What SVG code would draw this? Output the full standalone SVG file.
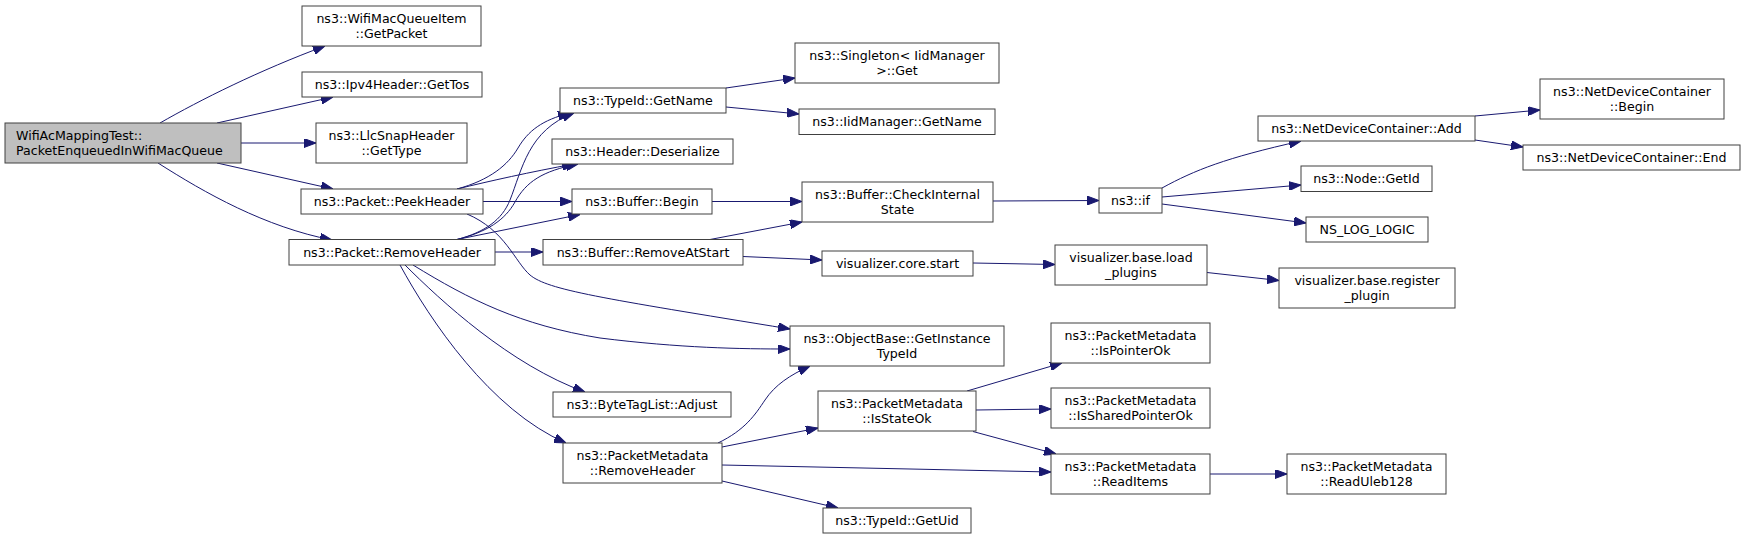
<svg xmlns="http://www.w3.org/2000/svg" width="1745" height="539" viewBox="0 0 1745 539">
<style>
.n rect{fill:#ffffff;stroke:#404040;stroke-width:1}
.n.root rect{fill:#bfbfbf}
.n text{font-family:"DejaVu Sans","Liberation Sans",sans-serif;font-size:12.6px;fill:#000;text-anchor:middle}
.n.root text{text-anchor:start}
.e path{fill:none;stroke:#191970;stroke-width:1;marker-end:url(#arr)}
</style>
<defs>
<marker id="arr" markerWidth="12" markerHeight="9" refX="12" refY="4.5" orient="auto" markerUnits="userSpaceOnUse">
<path d="M0,0 L12,4.5 L0,9 z" fill="#191970" stroke="#191970" stroke-width="1"/>
</marker>
</defs>
<rect x="0" y="0" width="1745" height="539" fill="#ffffff"/>
<g id="edges" class="e">
<path d="M160,123 C200,100 260,70 325,46"/>
<path d="M217,123 L333,97"/>
<path d="M241,143 L316,143"/>
<path d="M217,163 L333,189"/>
<path d="M158,163 C205,193 265,227 332,240"/>
<path d="M457,189 C490,180 508,165 518,148 C528,131 542,120 570,113"/>
<path d="M457,189 C490,181 530,172 574,164"/>
<path d="M483,201.5 L572,201.5"/>
<path d="M467,214 C505,230 515,262 530,275 C548,290 600,298 790,329"/>
<path d="M457,239.5 C485,232 502,220 510,200 C522,170 528,130 574,113"/>
<path d="M457,239.5 C487,232 505,220 515,202 C526,182 542,171 578,164"/>
<path d="M457,239.5 L580,214.5"/>
<path d="M495,252 L543,252"/>
<path d="M413,265 C470,300 520,325 600,338 C680,348 740,349 790,349"/>
<path d="M405,265 C440,300 510,365 585,392"/>
<path d="M400,265 C430,320 490,410 566,443"/>
<path d="M726,88 L795,78"/>
<path d="M726,107 L799,114"/>
<path d="M712,201.5 L802,201.5"/>
<path d="M710,239.5 L802,222"/>
<path d="M743,256.5 L822,260"/>
<path d="M718,443 C745,430 755,415 765,400 C775,385 790,375 810,366"/>
<path d="M722,447 L818,428"/>
<path d="M722,465 L1051,472"/>
<path d="M722,481 L838,508"/>
<path d="M993,201 L1099,200.5"/>
<path d="M973,263 L1055,264.5"/>
<path d="M1207,272.5 L1279,280.5"/>
<path d="M967,391 L1062,363"/>
<path d="M976,410 L1051,409"/>
<path d="M973,431.5 L1056,454"/>
<path d="M1210,474 L1287,474"/>
<path d="M1162,188 C1195,170 1225,158 1301,141"/>
<path d="M1162,197 L1301,185"/>
<path d="M1162,204 L1306,223"/>
<path d="M1475,116 L1540,110"/>
<path d="M1475,140 L1523,147"/>
</g>
<g id="n0" class="n root"><rect x="5" y="123" width="236" height="40"/><text x="16" y="140">WifiAcMappingTest::</text><text x="16" y="155">PacketEnqueuedInWifiMacQueue</text></g>
<g id="n1" class="n"><rect x="302" y="6" width="179" height="40"/><text x="391.5" y="23">ns3::WifiMacQueueItem</text><text x="391.5" y="38">::GetPacket</text></g>
<g id="n2" class="n"><rect x="302" y="72" width="180" height="25"/><text x="392" y="89">ns3::Ipv4Header::GetTos</text></g>
<g id="n3" class="n"><rect x="316" y="123" width="151" height="40"/><text x="391.5" y="140">ns3::LlcSnapHeader</text><text x="391.5" y="155">::GetType</text></g>
<g id="n4" class="n"><rect x="301" y="189" width="182" height="25"/><text x="392" y="206">ns3::Packet::PeekHeader</text></g>
<g id="n5" class="n"><rect x="289" y="239.5" width="206" height="25.5"/><text x="392" y="256.5">ns3::Packet::RemoveHeader</text></g>
<g id="n6" class="n"><rect x="560" y="88" width="166" height="25"/><text x="643" y="105">ns3::TypeId::GetName</text></g>
<g id="n7" class="n"><rect x="552" y="139" width="181" height="25"/><text x="642.5" y="156">ns3::Header::Deserialize</text></g>
<g id="n8" class="n"><rect x="572" y="189" width="140" height="25"/><text x="642" y="206">ns3::Buffer::Begin</text></g>
<g id="n9" class="n"><rect x="543" y="239.5" width="200" height="25.5"/><text x="643" y="256.5">ns3::Buffer::RemoveAtStart</text></g>
<g id="n10" class="n"><rect x="790" y="326" width="214" height="40"/><text x="897" y="343">ns3::ObjectBase::GetInstance</text><text x="897" y="358">TypeId</text></g>
<g id="n11" class="n"><rect x="553" y="392" width="178" height="25"/><text x="642" y="409">ns3::ByteTagList::Adjust</text></g>
<g id="n12" class="n"><rect x="563" y="443" width="159" height="40"/><text x="642.5" y="460">ns3::PacketMetadata</text><text x="642.5" y="475">::RemoveHeader</text></g>
<g id="n13" class="n"><rect x="795" y="43" width="204" height="40"/><text x="897" y="60">ns3::Singleton&lt; IidManager</text><text x="897" y="75">&gt;::Get</text></g>
<g id="n14" class="n"><rect x="799" y="109" width="196" height="25.5"/><text x="897" y="126">ns3::IidManager::GetName</text></g>
<g id="n15" class="n"><rect x="802" y="182" width="191" height="40"/><text x="897.5" y="199">ns3::Buffer::CheckInternal</text><text x="897.5" y="214">State</text></g>
<g id="n16" class="n"><rect x="822" y="251" width="151" height="25"/><text x="897.5" y="268">visualizer.core.start</text></g>
<g id="n17" class="n"><rect x="818" y="391" width="158" height="40"/><text x="897" y="408">ns3::PacketMetadata</text><text x="897" y="423">::IsStateOk</text></g>
<g id="n18" class="n"><rect x="823" y="508" width="148" height="25"/><text x="897" y="525">ns3::TypeId::GetUid</text></g>
<g id="n19" class="n"><rect x="1099" y="188" width="63" height="25"/><text x="1130.5" y="205">ns3::if</text></g>
<g id="n20" class="n"><rect x="1055" y="245" width="152" height="40"/><text x="1131" y="262">visualizer.base.load</text><text x="1131" y="277">_plugins</text></g>
<g id="n21" class="n"><rect x="1279" y="268" width="176" height="40"/><text x="1367" y="285">visualizer.base.register</text><text x="1367" y="300">_plugin</text></g>
<g id="n22" class="n"><rect x="1051" y="323" width="159" height="40"/><text x="1130.5" y="340">ns3::PacketMetadata</text><text x="1130.5" y="355">::IsPointerOk</text></g>
<g id="n23" class="n"><rect x="1051" y="388" width="159" height="40"/><text x="1130.5" y="405">ns3::PacketMetadata</text><text x="1130.5" y="420">::IsSharedPointerOk</text></g>
<g id="n24" class="n"><rect x="1051" y="454" width="159" height="40"/><text x="1130.5" y="471">ns3::PacketMetadata</text><text x="1130.5" y="486">::ReadItems</text></g>
<g id="n25" class="n"><rect x="1287" y="454" width="159" height="40"/><text x="1366.5" y="471">ns3::PacketMetadata</text><text x="1366.5" y="486">::ReadUleb128</text></g>
<g id="n26" class="n"><rect x="1258" y="116" width="217" height="25"/><text x="1366.5" y="133">ns3::NetDeviceContainer::Add</text></g>
<g id="n27" class="n"><rect x="1301" y="166" width="131" height="25.5"/><text x="1366.5" y="183">ns3::Node::GetId</text></g>
<g id="n28" class="n"><rect x="1306" y="217" width="122" height="25"/><text x="1367" y="234">NS_LOG_LOGIC</text></g>
<g id="n29" class="n"><rect x="1540" y="79" width="184" height="40"/><text x="1632" y="96">ns3::NetDeviceContainer</text><text x="1632" y="111">::Begin</text></g>
<g id="n30" class="n"><rect x="1523" y="145" width="217" height="25"/><text x="1631.5" y="162">ns3::NetDeviceContainer::End</text></g>
</svg>
